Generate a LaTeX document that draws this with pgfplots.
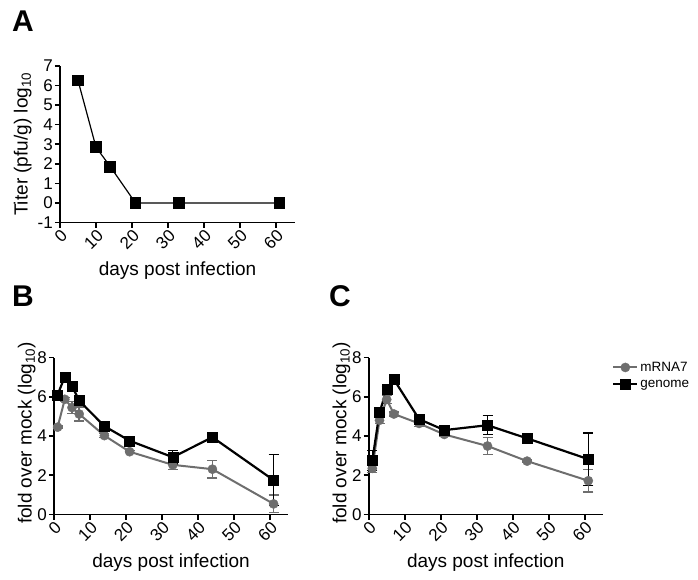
\documentclass[border=0pt]{standalone}
\usepackage{pgfplots}
\pgfplotsset{compat=1.18}
\usepackage{fontspec}
\setmainfont{Liberation Sans}
\definecolor{mgray}{RGB}{110,110,110}
\pgfplotsset{
  gp/.style={
    scale only axis, axis lines*=left,
    axis line style={line width=1.6pt, -},
    tick align=outside, major tick length=5pt,
    every tick/.style={line width=1.6pt, black},
    tick label style={font=\fontsize{17}{17}\selectfont},
    /pgf/number format/assume math mode=true,
    label style={font=\fontsize{19}{19}\selectfont, inner sep=0pt},
    xticklabel style={rotate=45, anchor=north east, inner sep=0.5pt},
    yticklabel style={inner sep=2pt},
    xtick={0,10,...,60}, xmin=0, clip=false,
    xlabel={days post infection},
    xlabel style={at={(axis description cs:0.5,-0.335)}, anchor=base},
  },
  gen/.style={black, line width=2.2pt, mark=square*, mark size=5pt, mark options={solid, line width=0.4pt},
    error bars/.cd, y dir=both, y explicit,
    error bar style={line width=1.4pt, black},
    error mark options={rotate=90, black, mark size=5pt, line width=1.4pt}},
  mrna/.style={mgray, line width=2pt, mark=*, mark size=4.6pt, mark options={solid, line width=0.4pt},
    error bars/.cd, y dir=both, y explicit,
    error bar style={line width=1.4pt, mgray},
    error mark options={rotate=90, mgray, mark size=5pt, line width=1.4pt}},
}
\pgfplotstableread{
x y
5 6.25
10 2.85
14 1.85
21 0
33 0
61 0
}\titer
\pgfplotstableread{
x y e
1 6.10 0.10
3 7.02 0.20
5 6.55 0.20
7 5.80 0.20
14 4.50 0.15
21 3.76 0.10
33 2.92 0.35
44 3.94 0.10
61 1.75 1.30
}\Bgen
\pgfplotstableread{
x y e
1 4.45 0.05
3 5.87 0.10
5 5.45 0.30
7 5.12 0.35
14 4.02 0.10
21 3.20 0.05
33 2.53 0.23
44 2.31 0.45
61 0.54 0.45
}\Bmrna
\pgfplotstableread{
x y e
1 2.75 0.50
3 5.19 0.15
5 6.37 0.15
7 6.88 0.10
14 4.86 0.25
21 4.30 0.25
33 4.55 0.48
44 3.88 0.15
61 2.82 1.34
}\Cgen
\pgfplotstableread{
x y e
1 2.35 0.20
3 4.80 0.15
5 5.86 0.20
7 5.12 0.10
14 4.64 0.15
21 4.08 0.10
33 3.49 0.42
44 2.72 0.05
61 1.72 0.57
}\Cmrna
\begin{document}
\begin{tikzpicture}
\path[use as bounding box] (0,0) rectangle (698pt,579pt);
% Panel A
\begin{axis}[gp, at={(60pt,356.3pt)}, anchor=south west,
  width=235pt, height=157pt, xmax=65.3, ymin=-1, ymax=7, ytick={-1,0,...,7},
  ylabel={Titer (pfu/g) log\textsubscript{10}},
  ylabel style={at={(axis description cs:-0.12,0.5)}, anchor=south}]
\addplot[black, line width=1.2pt, mark=square*, mark size=5.3pt, mark options={solid}] table[x=x,y=y] {\titer};
\end{axis}
% Panel B
\begin{axis}[gp, at={(54pt,64.5pt)}, anchor=south west,
  width=234pt, height=157pt, xmax=65, ymin=0, ymax=8, ytick={0,2,...,8},
  ylabel={fold over mock (log\textsubscript{10})},
  ylabel style={at={(axis description cs:-0.078,0.52)}, anchor=south}]
\addplot[mrna] table[x=x,y=y,y error=e] {\Bmrna};
\addplot[gen] table[x=x,y=y,y error=e] {\Bgen};
\end{axis}
% Panel C
\begin{axis}[gp, at={(368.7pt,64.5pt)}, anchor=south west,
  width=234pt, height=157pt, xmax=65, ymin=0, ymax=8, ytick={0,2,...,8},
  ylabel={fold over mock (log\textsubscript{10})},
  ylabel style={at={(axis description cs:-0.078,0.52)}, anchor=south},
  legend style={at={(axis description cs:1.04,0.985)}, anchor=north west, draw=none, fill=none,
    font=\fontsize{13.5}{13.5}\selectfont, row sep=3pt, inner sep=0pt},
  legend cell align=left,
  legend image code/.code={\draw[mark repeat=2,mark phase=2,#1] plot coordinates {(0pt,0pt)(12pt,0pt)(24pt,0pt)};}]
\addplot[mrna] table[x=x,y=y,y error=e] {\Cmrna};
\addlegendentry{mRNA7}
\addplot[gen] table[x=x,y=y,y error=e] {\Cgen};
\addlegendentry{genome}
\end{axis}
% panel letters
\node[font=\fontsize{30}{30}\selectfont\bfseries, anchor=base west, inner sep=0pt] at (12pt,547.3pt) {A};
\node[font=\fontsize{30}{30}\selectfont\bfseries, anchor=base west, inner sep=0pt] at (12pt,272.3pt) {B};
\node[font=\fontsize{30}{30}\selectfont\bfseries, anchor=base west, inner sep=0pt] at (329pt,272.3pt) {C};
\end{tikzpicture}
\end{document}
